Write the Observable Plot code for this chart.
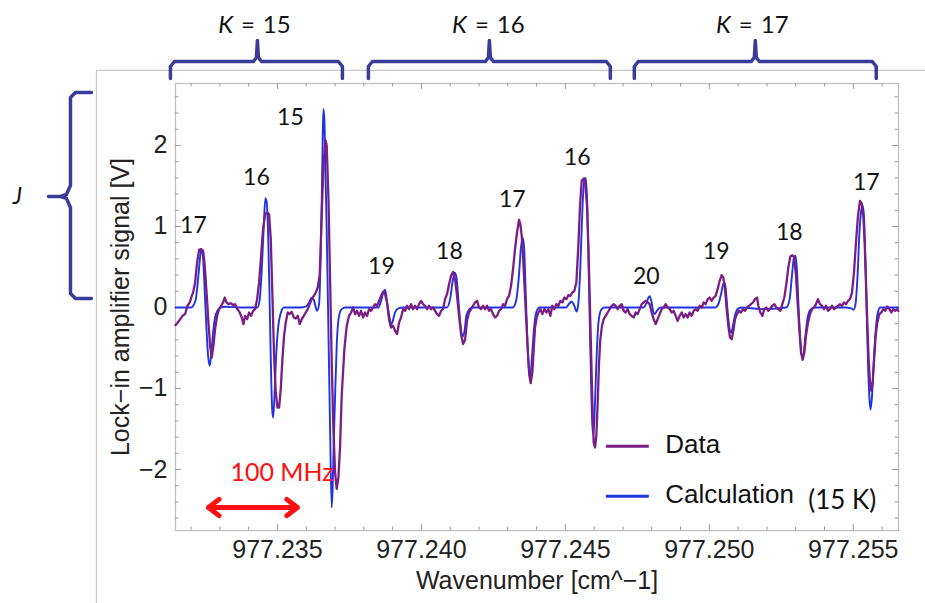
<!DOCTYPE html>
<html><head><meta charset="utf-8">
<script src="https://cdn.jsdelivr.net/npm/d3@7"></script>
<script src="https://cdn.jsdelivr.net/npm/@observablehq/plot@0.6"></script>
<style>body{margin:0;background:#fff}</style>
</head><body>
<script>
// Measured spectrum (Data)
const dataX = [977.231458,977.231585,977.231701,977.231794,977.231875,977.231956,977.232025,977.232072,977.232141,977.232210,977.232280,977.232349,977.232419,977.232476,977.232546,977.232604,977.232662,977.232719,977.232777,977.232835,977.232905,977.232974,977.233044,977.233113,977.233171,977.233229,977.233298,977.233379,977.233460,977.233530,977.233611,977.233692,977.233761,977.233819,977.233877,977.233947,977.234016,977.234085,977.234155,977.234224,977.234294,977.234363,977.234433,977.234502,977.234572,977.234641,977.234710,977.234768,977.234826,977.234884,977.234942,977.235000,977.235058,977.235115,977.235173,977.235231,977.235289,977.235358,977.235428,977.235497,977.235567,977.235636,977.235706,977.235775,977.235845,977.235914,977.235983,977.236053,977.236122,977.236192,977.236261,977.236331,977.236400,977.236468,977.236517,977.236562,977.236607,977.236656,977.236677,977.236711,977.236770,977.236829,977.236885,977.236944,977.237003,977.237059,977.237118,977.237177,977.237232,977.237326,977.237406,977.237489,977.237558,977.237627,977.237697,977.237766,977.237836,977.237905,977.237975,977.238044,977.238113,977.238183,977.238252,977.238322,977.238391,977.238461,977.238530,977.238600,977.238669,977.238738,977.238808,977.238877,977.238947,977.239016,977.239086,977.239155,977.239225,977.239294,977.239363,977.239433,977.239502,977.239572,977.239641,977.239711,977.239780,977.239850,977.239919,977.239988,977.240058,977.240127,977.240197,977.240266,977.240336,977.240405,977.240475,977.240544,977.240613,977.240683,977.240752,977.240822,977.240891,977.240961,977.241030,977.241100,977.241169,977.241238,977.241308,977.241377,977.241447,977.241516,977.241586,977.241655,977.241725,977.241794,977.241863,977.241933,977.242002,977.242072,977.242141,977.242211,977.242280,977.242350,977.242419,977.242488,977.242558,977.242627,977.242697,977.242766,977.242836,977.242905,977.242975,977.243044,977.243113,977.243183,977.243252,977.243322,977.243391,977.243437,977.243484,977.243530,977.243576,977.243634,977.243692,977.243750,977.243796,977.243854,977.243900,977.243947,977.244004,977.244062,977.244132,977.244201,977.244271,977.244340,977.244410,977.244479,977.244549,977.244618,977.244687,977.244757,977.244826,977.244896,977.244965,977.245035,977.245104,977.245174,977.245243,977.245313,977.245382,977.245451,977.245509,977.245567,977.245637,977.245694,977.245752,977.245799,977.245845,977.245891,977.245938,977.245984,977.246030,977.246076,977.246123,977.246169,977.246215,977.246273,977.246331,977.246400,977.246470,977.246539,977.246609,977.246678,977.246747,977.246817,977.246886,977.246956,977.247025,977.247095,977.247164,977.247234,977.247303,977.247372,977.247442,977.247511,977.247581,977.247650,977.247720,977.247789,977.247859,977.247928,977.247997,977.248067,977.248136,977.248206,977.248275,977.248345,977.248414,977.248484,977.248553,977.248622,977.248692,977.248761,977.248831,977.248900,977.248970,977.249039,977.249109,977.249178,977.249247,977.249317,977.249386,977.249456,977.249525,977.249595,977.249664,977.249734,977.249803,977.249872,977.249942,977.250011,977.250081,977.250150,977.250220,977.250289,977.250359,977.250428,977.250486,977.250544,977.250602,977.250660,977.250718,977.250776,977.250834,977.250892,977.250961,977.251031,977.251100,977.251170,977.251239,977.251309,977.251378,977.251447,977.251517,977.251586,977.251656,977.251702,977.251771,977.251841,977.251910,977.251980,977.252049,977.252119,977.252188,977.252258,977.252327,977.252396,977.252466,977.252535,977.252605,977.252674,977.252744,977.252813,977.252883,977.252952,977.253010,977.253068,977.253126,977.253184,977.253241,977.253299,977.253357,977.253427,977.253496,977.253566,977.253635,977.253705,977.253774,977.253843,977.253913,977.253982,977.254052,977.254121,977.254191,977.254260,977.254330,977.254399,977.254468,977.254538,977.254607,977.254677,977.254746,977.254816,977.254885,977.254955,977.255024,977.255093,977.255163,977.255232,977.255290,977.255348,977.255394,977.255441,977.255487,977.255533,977.255579,977.255625,977.255672,977.255718,977.255776,977.255834,977.255903,977.255973,977.256042,977.256112,977.256181,977.256250,977.256320,977.256389,977.256459,977.256528,977.256563];
const dataY = [-0.218,-0.165,-0.103,-0.082,0.021,0.062,0.144,0.185,0.309,0.556,0.712,0.72,0.700,0.514,0.144,-0.185,-0.473,-0.617,-0.473,-0.267,-0.103,-0.021,0.021,0.062,0.123,0.062,0.041,0.053,0.029,0.041,-0.021,-0.062,-0.123,-0.206,-0.103,-0.144,-0.062,-0.103,-0.041,-0.021,0.103,0.309,0.638,0.967,1.152,1.173,1.152,0.844,0.144,-0.597,-1.049,-1.235,-1.235,-1.008,-0.638,-0.350,-0.185,-0.062,-0.082,-0.053,-0.123,-0.136,-0.103,-0.206,-0.144,-0.103,-0.062,-0.021,0.041,0.103,0.144,0.185,0.247,0.4,0.9,1.4,1.8,2.03,2.06,2.0,1.38,0.35,-0.68,-1.5,-2.04,-2.24,-2.1,-1.7,-1.09,-0.51,-0.23,-0.10,-0.062,0,-0.082,-0.041,-0.103,-0.041,-0.123,-0.062,-0.103,-0.021,-0.041,0,0.041,0.021,0.082,0.144,0.193,0.165,0.062,-0.103,-0.247,-0.226,-0.288,-0.329,-0.185,-0.123,-0.021,-0.041,0.021,-0.021,0.041,-0.021,0.021,-0.021,0.041,0.082,0.041,0.021,-0.021,0.021,-0.021,0,-0.041,-0.082,-0.103,-0.041,-0.021,0.103,0.165,0.288,0.391,0.44,0.35,0.144,-0.103,-0.329,-0.45,-0.40,-0.16,-0.062,-0.021,0.021,0.062,0.082,0,-0.021,0.021,-0.021,0.021,-0.041,-0.021,-0.082,-0.123,-0.103,-0.041,-0.021,0.041,0.021,0.103,0.144,0.267,0.473,0.72,0.926,1.082,1.029,0.885,0.638,0.309,-0.103,-0.514,-0.844,-0.934,-0.802,-0.514,-0.247,-0.123,-0.062,-0.021,-0.082,-0.021,-0.062,-0.021,-0.103,0.021,-0.021,0.041,0.021,0.082,0.062,0.123,0.103,0.152,0.144,0.185,0.206,0.309,0.761,1.255,1.564,1.593,1.523,1.255,0.761,0.144,-0.514,-1.173,-1.667,-1.728,-1.584,-1.173,-0.679,-0.391,-0.226,-0.144,-0.103,-0.062,-0.021,0.021,0.041,0.021,-0.021,0.021,0.041,-0.041,-0.062,-0.021,-0.082,-0.103,-0.123,-0.062,-0.082,-0.021,0.041,0.062,0.082,0.062,0.041,-0.062,-0.144,-0.206,-0.144,-0.082,-0.021,0,0.041,0,-0.021,-0.062,-0.041,-0.103,-0.165,-0.103,-0.062,-0.123,-0.082,-0.123,-0.062,-0.103,-0.041,-0.021,-0.041,0.021,0,0.062,0.041,0.103,0.123,0.082,0.123,0.144,0.226,0.329,0.399,0.37,0.226,-0.021,-0.226,-0.370,-0.391,-0.288,-0.144,-0.082,-0.041,-0.062,-0.021,-0.041,0,0.021,0.041,0.062,0.103,0.123,0.021,-0.062,-0.103,-0.021,0,-0.041,-0.012,0.021,0.041,0,-0.021,-0.041,0.041,0.123,0.288,0.494,0.63,0.646,0.617,0.391,0.062,-0.267,-0.556,-0.646,-0.556,-0.350,-0.185,-0.082,-0.021,0,0.041,0.103,0.041,0.021,-0.021,0.021,-0.041,-0.021,0.021,-0.021,0,0.021,0.041,0.021,0.062,0.041,0.082,0.103,0.185,0.432,0.802,1.132,1.317,1.288,1.132,0.802,0.309,-0.185,-0.638,-0.926,-1.029,-0.926,-0.679,-0.350,-0.185,-0.082,-0.062,-0.021,-0.041,0.012,-0.021,-0.062,-0.021,-0.041,-0.021,-0.041];

// Calculated spectrum (15 K)
const calcX = [977.231458,977.231979,977.232048,977.232163,977.232257,977.232336,977.232371,977.232420,977.232475,977.232534,977.232593,977.232649,977.232708,977.232767,977.232836,977.232916,977.233031,977.233194,977.233715,977.234305,977.234385,977.234454,977.234524,977.234583,977.234628,977.234677,977.234722,977.234767,977.234816,977.234850,977.234896,977.234955,977.235024,977.235114,977.235232,977.235798,977.235982,977.236100,977.236191,977.236260,977.236330,977.236378,977.236448,977.236493,977.236538,977.236573,977.236597,977.236632,977.236666,977.236711,977.236770,977.236829,977.236885,977.236920,977.236954,977.237003,977.237059,977.237142,977.237232,977.237361,977.238507,977.238600,977.238680,977.238739,977.238795,977.238854,977.238923,977.238993,977.239086,977.239201,977.239375,977.240878,977.240996,977.241076,977.241156,977.241215,977.241284,977.241354,977.241423,977.241493,977.241562,977.241666,977.241770,977.243170,977.243288,977.243378,977.243461,977.243517,977.243566,977.243621,977.243680,977.243739,977.243784,977.243843,977.243913,977.243993,977.244097,977.245024,977.245139,977.245218,977.245312,977.245392,977.245451,977.245520,977.245590,977.245659,977.245704,977.245753,977.245798,977.245843,977.245892,977.245937,977.245972,977.246017,977.246076,977.246146,977.246239,977.246354,977.247718,977.247812,977.247882,977.247927,977.247986,977.248045,977.248100,977.248184,977.248298,977.250208,977.250323,977.250416,977.250496,977.250545,977.250590,977.250649,977.250704,977.250764,977.250823,977.250902,977.251017,977.251135,977.251770,977.252673,977.252788,977.252871,977.252941,977.252996,977.253045,977.253100,977.253159,977.253218,977.253264,977.253323,977.253402,977.253507,977.253656,977.254722,977.254930,977.255010,977.255080,977.255149,977.255218,977.255288,977.255337,977.255382,977.255427,977.255475,977.255521,977.255566,977.255600,977.255649,977.255705,977.255774,977.255843,977.255937,977.256562];
const calcY = [0,0,0.01,0.1,0.4,0.68,0.72,0.6,0.2,-0.25,-0.6,-0.72,-0.55,-0.3,-0.12,-0.04,0,0.01,0,0,0.1,0.45,1.0,1.35,1.3,0.9,0.2,-0.6,-1.25,-1.36,-1.1,-0.6,-0.25,-0.07,0,0,0.01,0.06,0.12,0.1,0.0,-0.04,0.05,0.5,1.3,2.1,2.45,2.3,1.7,0.97,-0.27,-1.5,-2.47,-2.2,-1.7,-1.09,-0.47,-0.1,-0.02,0,0,0.08,0.19,0.22,0.1,-0.1,-0.22,-0.18,-0.06,-0.01,0,0,0.1,0.3,0.43,0.38,0.1,-0.2,-0.36,-0.3,-0.1,-0.02,0,0,0.08,0.35,0.75,0.86,0.75,0.2,-0.4,-0.78,-0.84,-0.6,-0.25,-0.06,0,0,0.05,0.07,0.02,-0.05,0.05,0.5,1.2,1.58,1.6,1.35,0.7,-0.1,-0.9,-1.45,-1.57,-1.3,-0.7,-0.2,-0.03,0,0,0.05,0.12,0.14,0.08,-0.04,-0.08,-0.04,0,0,0.05,0.18,0.3,0.3,0.15,-0.1,-0.27,-0.31,-0.22,-0.08,-0.01,0,-0.02,0,0.1,0.4,0.62,0.64,0.45,0.0,-0.4,-0.6,-0.6,-0.4,-0.15,-0.03,0,0,-0.01,-0.03,0.05,0.4,0.95,1.22,1.25,1.05,0.5,-0.2,-0.8,-1.15,-1.26,-1.1,-0.7,-0.3,-0.08,0,0];

// Axis ticks
const xMajorTicks = [977.235, 977.240, 977.245, 977.250, 977.255];
const xMinorTicks = [977.232,977.233,977.234,977.236,977.237,977.238,977.239,977.241,977.242,977.243,977.244,977.246,977.247,977.248,977.249,977.251,977.252,977.253,977.254,977.256];
const yMajorTicks = [-2, -1, 0, 1, 2];
const yMinorTicks = [-2.6,-2.4,-2.2,-1.8,-1.6,-1.4,-1.2,-0.8,-0.6,-0.4,-0.2,0.2,0.4,0.6,0.8,1.2,1.4,1.6,1.8,2.2,2.4,2.6];

// Peak (J) labels
const peakLabels = ["17","16","15","19","18","17","16","20","19","18","17"];
const peakLabelX = [977.232083,977.234271,977.235451,977.238611,977.240972,977.243159,977.245416,977.247812,977.250243,977.252777,977.255451];
const peakLabelY = [1.01,1.605,2.346,0.506,0.691,1.333,1.852,0.383,0.691,0.926,1.543];

// K groups: brace extents [left, middle, right]
const kLabels = ["K = 15", "K = 16", "K = 17"];
const kBraceLeft = [977.231284, 977.238159, 977.247395];
const kBraceMid = [977.234305, 977.242361, 977.251597];
const kBraceRight = [977.237257, 977.246562, 977.255798];
const kLabelX = [977.234201, 977.242326, 977.251493];
const kLabelY = 3.481;

// J brace
const jBraceX = [977.228541,977.227986,977.227812,977.227812,977.227673,977.227465,977.227048,977.227465,977.227673,977.227812,977.227812,977.227986,977.228541];
const jBraceY = [2.654,2.654,2.593,1.506,1.395,1.370,1.370,1.370,1.346,1.235,0.173,0.111,0.111];

const legendLabels = ["Data", "Calculation"];
const colors = {data: "#7a1e84", calc: "#1f33e6", brace: "#3b3b98"};

const data = dataX.map((x, i) => ({x, y: dataY[i]}));
const calc = calcX.map((x, i) => ({x, y: calcY[i]}));
const peaks = peakLabels.map((t, i) => ({t, x: peakLabelX[i], y: peakLabelY[i]}));

// brace outline in data units (offsets ~4-5px)
const dx4 = 0.000139, dx1 = 0.0000347;
const braces = [];
kLabels.forEach((k, i) => {
  const L = kBraceLeft[i], M = kBraceMid[i], R = kBraceRight[i];
  const pts = [[L,2.827],[L,2.975],[L+dx4,3.037],[M-dx4,3.037],[M-dx1,3.086],[M,3.296],[M+dx1,3.086],[M+dx4,3.037],[R-dx4,3.037],[R,2.975],[R,2.827]];
  pts.forEach(([x,y]) => braces.push({k, x, y}));
});
const jBrace = jBraceX.map((x, i) => ({x, y: jBraceY[i]}));

const W = 925, H = 603, mL = 175, mR = 27, mT = 83, mB = 73;
const iW = W - mL - mR, iH = H - mT - mB;
const tickColor = "#9a9a9a";
const annoFont = "Lato, 'Open Sans', sans-serif";

const chart = Plot.plot({
  width: W, height: H,
  marginLeft: mL, marginRight: mR, marginTop: mT, marginBottom: mB,
  x: {domain: [977.23146, 977.25657], axis: null},
  y: {domain: [-2.753, 2.765], axis: null},
  style: {background: "white", fontFamily: "'Liberation Sans', Arial, sans-serif", overflow: "visible"},
  marks: [
    // outer image border
    Plot.line([{x: 977.228715, y: -3.66}, {x: 977.228715, y: 2.926}, {x: 977.2576, y: 2.926}], {x: "x", y: "y", stroke: "#c8c8c8", strokeWidth: 1.2}),
    Plot.frame({stroke: "#bcbcbc", strokeWidth: 1.2}),
    // ticks (inward, all four sides)
    Plot.ruleX(xMajorTicks, {x: d => d, insetTop: iH - 6, stroke: tickColor}),
    Plot.ruleX(xMajorTicks, {x: d => d, insetBottom: iH - 6, stroke: tickColor}),
    Plot.ruleX(xMinorTicks, {x: d => d, insetTop: iH - 3.5, stroke: tickColor}),
    Plot.ruleX(xMinorTicks, {x: d => d, insetBottom: iH - 3.5, stroke: tickColor}),
    Plot.ruleY(yMajorTicks, {y: d => d, insetRight: iW - 6, stroke: tickColor}),
    Plot.ruleY(yMajorTicks, {y: d => d, insetLeft: iW - 6, stroke: tickColor}),
    Plot.ruleY(yMinorTicks, {y: d => d, insetRight: iW - 3.5, stroke: tickColor}),
    Plot.ruleY(yMinorTicks, {y: d => d, insetLeft: iW - 3.5, stroke: tickColor}),
    Plot.axisX(xMajorTicks, {tickSize: 0, tickPadding: 10, tickFormat: d3.format(".3f"), fontSize: 25, fill: "#222", label: null}),
    Plot.axisY(yMajorTicks, {tickSize: 0, tickPadding: 8, tickFormat: d3.format("d"), fontSize: 25, fill: "#222", label: null}),
    Plot.text(["Wavenumber [cm^\u22121]"], {frameAnchor: "bottom", dy: 50, lineAnchor: "middle", textAnchor: "middle", fontSize: 25, fill: "#222"}),
    Plot.text(["Lock\u2212in amplifier signal [V]"], {frameAnchor: "left", dx: -55, rotate: -90, textAnchor: "middle", lineAnchor: "middle", fontSize: 25, fill: "#222"}),
    // spectra
    Plot.line(calc, {x: "x", y: "y", stroke: colors.calc, strokeWidth: 1.9, curve: "monotone-x"}),
    Plot.line(data, {x: "x", y: "y", stroke: colors.data, strokeWidth: 2.3, strokeLinejoin: "round"}),
    // peak labels
    Plot.text(peaks, {x: "x", y: "y", text: "t", fontSize: 23, fontFamily: annoFont, fill: "#111"}),
    // legend
    Plot.ruleY([-1.712], {y: d => d, x1: 977.246423, x2: 977.247916, stroke: colors.data, strokeWidth: 3}),
    Plot.ruleY([-2.33], {y: d => d, x1: 977.246423, x2: 977.247916, stroke: colors.calc, strokeWidth: 3}),
    Plot.text(legendLabels, {x: 977.248472, y: [-1.69, -2.309], text: d => d, textAnchor: "start", fontSize: 26, fill: "#111"}),
    Plot.text(["(15 K)"], {x: 977.253437, y: -2.383, textAnchor: "start", fontSize: 26, fontFamily: annoFont, fill: "#111"}),
    // 100 MHz scale arrow
    Plot.text(["100 MHz"], {x: 977.233368, y: -2.049, textAnchor: "start", fontSize: 25, fontFamily: annoFont, fill: "#ff1010"}),
    Plot.arrow([977.232604, 977.235694], {x1: 977.234149, y1: -2.469, x2: d => d, y2: -2.469, stroke: "#ff1010", strokeWidth: 5, headLength: 4, headAngle: 75}),
    // K braces and labels
    Plot.line(braces, {x: "x", y: "y", z: "k", stroke: colors.brace, strokeWidth: 3.5, strokeLinejoin: "round"}),
    Plot.text(kLabels, {x: kLabelX, y: kLabelY, text: d => d, fontSize: 24, fontFamily: annoFont, fill: "#111"}),
    // J brace and label
    Plot.line(jBrace, {x: "x", y: "y", stroke: colors.brace, strokeWidth: 3.5, strokeLinejoin: "round", curve: "linear"}),
    Plot.text(["J"], {x: 977.225972, y: 1.37, fontSize: 23, fontStyle: "italic", fontFamily: annoFont, fill: "#111"})
  ]
});

// italic K in the K = .. labels
d3.select(chart).selectAll("text").each(function () {
  const t = this.textContent;
  if (/^K = \d+$/.test(t)) {
    const n = t.slice(4);
    const sel = d3.select(this);
    sel.text(null);
    sel.append("tspan").attr("font-style", "italic").text("K");
    sel.append("tspan").text("\u2004=\u2004" + n);
  }
});
document.body.appendChild(chart);
</script>
</body></html>
